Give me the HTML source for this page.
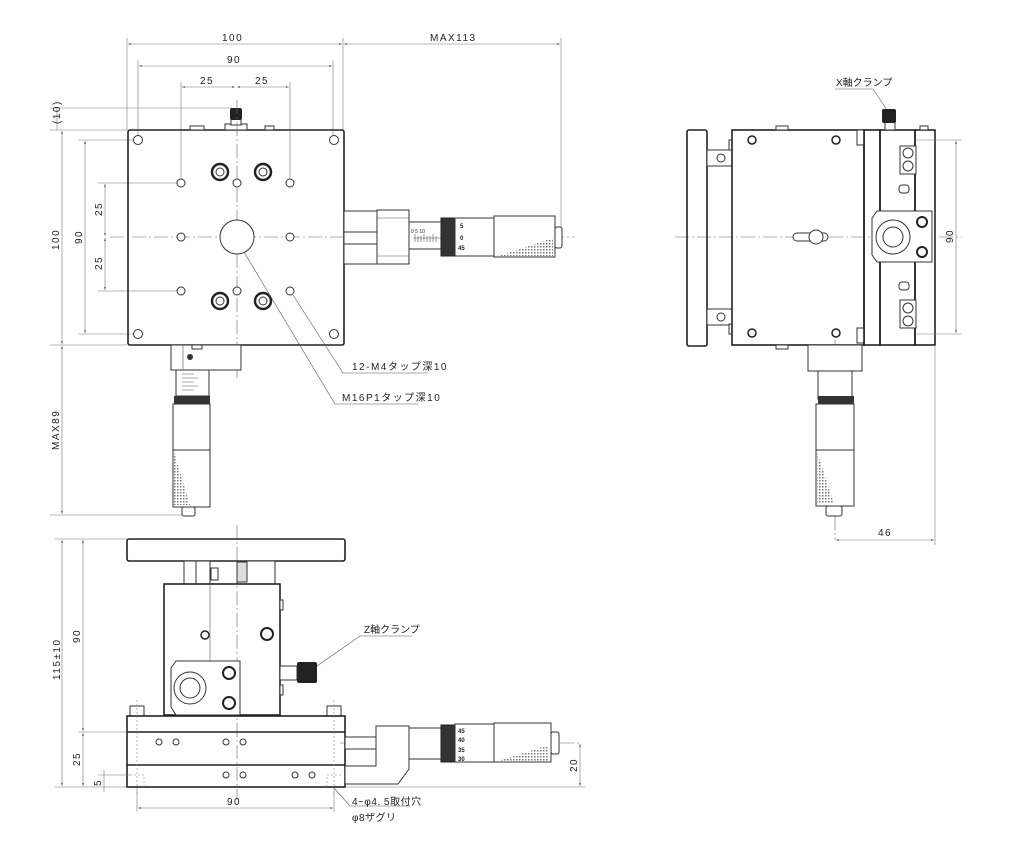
<!DOCTYPE html>
<html><head><meta charset="utf-8"><style>
html,body{margin:0;padding:0;background:#fff;width:1024px;height:854px;overflow:hidden}
svg{display:block}
text{font-family:"Liberation Sans","Noto Sans CJK JP",sans-serif;font-size:10px;fill:#222;letter-spacing:1.5px}
.o{fill:#fff;stroke:#333;stroke-width:1}
.ob{fill:none;stroke:#222;stroke-width:1.6}
.l{stroke:#555;stroke-width:.6;fill:none}
.d{stroke:#777;stroke-width:.6;fill:none}
.c{stroke:#666;stroke-width:.6;stroke-dasharray:14 3 2 3;fill:none}
.h{fill:#fff;stroke:#333;stroke-width:1}
.k{fill:#222}
.hat{fill:url(#hat)}
</style></head><body>
<svg width="1024" height="854" viewBox="0 0 1024 854" xmlns="http://www.w3.org/2000/svg">
<defs>
<pattern id="hat" width="3" height="3" patternUnits="userSpaceOnUse"><rect width="3" height="3" fill="#fff"/><rect width="1.5" height="1.5" fill="#777"/></pattern>
<marker id="a" markerWidth="6" markerHeight="6" refX="5" refY="3" orient="auto-start-reverse"><path d="M0,1.5 L5,3 L0,4.5" fill="#555"/></marker>
</defs>

<!-- ================= TOP VIEW ================= -->
<g class="d">
<line x1="127" y1="38" x2="127" y2="130"/><line x1="343" y1="38" x2="343" y2="130"/><line x1="561" y1="38" x2="561" y2="237"/>
<line x1="138" y1="60" x2="138" y2="135"/><line x1="333" y1="60" x2="333" y2="135"/>
<line x1="181" y1="82" x2="181" y2="183"/><line x1="290" y1="82" x2="290" y2="183"/>
<line x1="50" y1="108" x2="232" y2="108"/><line x1="50" y1="130" x2="127" y2="130"/>
<line x1="50" y1="345" x2="127" y2="345"/><line x1="78" y1="140" x2="138" y2="140"/><line x1="78" y1="334" x2="138" y2="334"/>
<line x1="98" y1="183" x2="181" y2="183"/><line x1="98" y1="291" x2="181" y2="291"/>
<line x1="50" y1="515" x2="188" y2="515"/>
</g>
<g class="d" marker-start="url(#a)" marker-end="url(#a)">
<line x1="128" y1="44" x2="342" y2="44"/><line x1="344" y1="44" x2="560" y2="44"/>
<line x1="139" y1="66" x2="332" y2="66"/>
<line x1="182" y1="87" x2="235" y2="87"/><line x1="237" y1="87" x2="289" y2="87"/>
<line x1="62" y1="131" x2="62" y2="344"/><line x1="62" y1="346" x2="62" y2="514"/>
<line x1="85" y1="141" x2="85" y2="333"/>
<line x1="105" y1="184" x2="105" y2="236"/><line x1="105" y1="238" x2="105" y2="290"/>
</g>
<line class="d" x1="57" y1="108" x2="57" y2="130"/>
<text x="222" y="41">100</text><text x="430" y="41">MAX113</text><text x="227" y="63">90</text>
<text x="200" y="84">25</text><text x="255" y="84">25</text>
<text transform="translate(60,124) rotate(-90)">(10)</text>
<text transform="translate(59,250) rotate(-90)">100</text>
<text transform="translate(82,244) rotate(-90)">90</text>
<text transform="translate(102,216) rotate(-90)">25</text>
<text transform="translate(102,270) rotate(-90)">25</text>
<text transform="translate(59,450) rotate(-90)">MAX89</text>

<rect x="128" y="130" width="216" height="215" rx="2" class="ob" fill="#fff"/>
<rect x="190" y="126" width="14" height="4" class="o"/><rect x="265" y="126" width="9" height="4" class="o"/>
<rect x="225" y="124" width="22" height="6" class="o"/>
<rect x="231" y="118" width="10" height="7" class="o"/>
<rect x="230" y="108" width="12" height="12" rx="2" class="k"/>
<line class="c" x1="237" y1="100" x2="237" y2="380"/><line class="c" x1="110" y1="237" x2="575" y2="237"/>
<g class="h">
<circle cx="138" cy="140" r="4.5"/><circle cx="334" cy="140" r="4.5"/><circle cx="138" cy="334" r="4.5"/><circle cx="334" cy="334" r="4.5"/>
<circle cx="181" cy="183" r="4"/><circle cx="237" cy="183" r="4"/><circle cx="290" cy="183" r="4"/>
<circle cx="181" cy="237" r="4"/><circle cx="290" cy="237" r="4"/>
<circle cx="181" cy="291" r="4"/><circle cx="237" cy="291" r="4"/><circle cx="290" cy="291" r="4"/>
<circle cx="237" cy="237" r="17"/>
</g>
<g>
<circle cx="220" cy="172" r="8" fill="#fff" stroke="#222" stroke-width="2.5"/><circle cx="220" cy="172" r="4" class="h"/>
<circle cx="263" cy="172" r="8" fill="#fff" stroke="#222" stroke-width="2.5"/><circle cx="263" cy="172" r="4" class="h"/>
<circle cx="220" cy="301" r="8" fill="#fff" stroke="#222" stroke-width="2.5"/><circle cx="220" cy="301" r="4" class="h"/>
<circle cx="263" cy="301" r="8" fill="#fff" stroke="#222" stroke-width="2.5"/><circle cx="263" cy="301" r="4" class="h"/>
</g>
<rect x="344" y="211" width="33" height="53" class="o"/>
<rect x="344" y="232" width="33" height="12" class="o"/>
<rect x="377" y="210" width="32" height="54" class="o"/>
<line class="l" x1="377" y1="218" x2="409" y2="218"/><line class="l" x1="377" y1="256" x2="409" y2="256"/>
<rect x="409" y="222" width="32" height="27" class="o"/>
<g class="l"><line x1="413" y1="238" x2="441" y2="238"/><path d="M415 234v8M418 236v6M421 236v6M424 234v8M427 236v6M430 236v6M433 234v8M436 236v6"/></g>
<text x="411" y="233" style="font-size:5px;letter-spacing:0">0 5 10</text>
<rect x="441" y="218" width="14" height="38" fill="#333" stroke="#222"/>
<rect x="455" y="218" width="39" height="38" class="o"/>
<text x="460" y="228" style="font-size:6px;font-weight:bold;letter-spacing:0">5</text>
<text x="460" y="240" style="font-size:6px;font-weight:bold;letter-spacing:0">0</text>
<text x="458" y="250" style="font-size:6px;font-weight:bold;letter-spacing:0">45</text>
<rect x="494" y="216" width="61" height="41" class="o"/>
<path d="M498 256 L553 238 L553 256Z" class="hat"/>
<rect x="555" y="227" width="7" height="21" rx="2" class="o"/>
<rect x="171" y="345" width="70" height="25" class="o"/>
<line class="l" x1="183" y1="345" x2="183" y2="370"/>
<rect x="192" y="345" width="10" height="4" class="o"/>
<circle cx="190" cy="357" r="3" fill="#333"/>
<rect x="176" y="370" width="33" height="26" class="o"/>
<g class="l"><path d="M182 374h12M182 378h16M182 382h12M182 386h16M182 390h12"/></g>
<rect x="174" y="396" width="36" height="8" fill="#333"/>
<rect x="173" y="404" width="37" height="46" class="o"/>
<rect x="173" y="450" width="37" height="57" class="o"/>
<path d="M174 452 L190 505 L174 505Z" class="hat"/>
<rect x="182" y="507" width="13" height="9" rx="2" class="o"/>
<polyline class="l" points="293,295 343,373 428,373"/>
<polyline class="l" points="244,252 335,404 418,404"/>
<text x="352" y="370">12-M4タップ深10</text>
<text x="342" y="401">M16P1タップ深10</text>

<!-- ================= RIGHT VIEW ================= -->
<line class="c" x1="675" y1="237" x2="962" y2="237"/>
<line class="c" x1="835" y1="340" x2="835" y2="540"/>
<rect x="687" y="130" width="20" height="216" rx="2" class="ob" fill="#fff"/>
<rect x="707" y="150" width="25" height="16" class="o"/><circle cx="721" cy="158" r="4" class="h"/>
<rect x="707" y="309" width="25" height="16" class="o"/><circle cx="721" cy="317" r="4" class="h"/>
<rect x="729" y="140" width="3" height="10" class="o"/><rect x="729" y="324" width="3" height="10" class="o"/>
<rect x="732" y="130" width="132" height="215" class="ob" fill="#fff"/>
<rect x="776" y="126" width="12" height="4" class="o"/><rect x="776" y="345" width="12" height="4" class="o"/>
<g fill="#fff" stroke="#222" stroke-width="1.5">
<circle cx="752" cy="140" r="4"/><circle cx="836" cy="140" r="4"/><circle cx="752" cy="333" r="4"/><circle cx="836" cy="333" r="4"/></g>
<rect x="793" y="233" width="35" height="8" rx="4" class="o"/>
<circle cx="816" cy="237" r="7" class="h"/>
<rect x="857" y="130" width="7" height="15" class="o"/><rect x="857" y="328" width="7" height="15" class="o"/>
<rect x="864" y="130" width="16" height="215" class="ob" fill="#fff"/>
<rect x="880" y="130" width="35" height="215" class="ob" fill="#fff"/>
<rect x="915" y="130" width="20" height="215" class="ob" fill="#fff"/>
<rect x="885" y="122" width="10" height="8" class="o"/>
<rect x="882" y="109" width="14" height="14" rx="2" class="k"/>
<rect x="920" y="126" width="8" height="4" class="o"/>
<g fill="#fff" stroke="#333">
<rect x="900" y="146" width="16" height="28"/><rect x="900" y="300" width="16" height="28"/>
<circle cx="908" cy="153" r="5"/><circle cx="908" cy="166" r="5"/><circle cx="908" cy="308" r="5"/><circle cx="908" cy="321" r="5"/>
<rect x="899" y="185" width="10" height="8" rx="3"/><rect x="899" y="282" width="10" height="8" rx="3"/>
</g>
<path d="M877 211 H932 V262 H877 L872 255 V218Z" class="o"/>
<circle cx="893" cy="237" r="17" class="h"/><circle cx="893" cy="237" r="10" class="h"/>
<circle cx="922" cy="222" r="5" fill="#fff" stroke="#222" stroke-width="2"/>
<circle cx="922" cy="252" r="5" fill="#fff" stroke="#222" stroke-width="2"/>
<rect x="808" y="345" width="54" height="26" class="o"/>
<rect x="818" y="371" width="34" height="28" class="o"/>
<rect x="818" y="396" width="36" height="8" fill="#333"/>
<rect x="816" y="404" width="38" height="46" class="o"/>
<rect x="816" y="450" width="38" height="56" class="o"/>
<path d="M817 452 L834 504 L817 504Z" class="hat"/>
<rect x="826" y="506" width="16" height="10" rx="2" class="o"/>
<g class="d"><line x1="915" y1="140" x2="962" y2="140"/><line x1="915" y1="334" x2="962" y2="334"/>
<line x1="935" y1="345" x2="935" y2="545"/></g>
<g class="d" marker-start="url(#a)" marker-end="url(#a)">
<line x1="956" y1="141" x2="956" y2="333"/><line x1="836" y1="540" x2="934" y2="540"/></g>
<text transform="translate(953,243) rotate(-90)">90</text>
<text x="878" y="536">46</text>
<polyline class="l" points="835,89 873,89 887,110"/>
<text x="836" y="86" style="letter-spacing:0">X軸クランプ</text>

<!-- ================= FRONT/SIDE VIEW ================= -->
<line class="c" x1="237" y1="525" x2="237" y2="800"/>
<line class="c" x1="340" y1="743" x2="580" y2="743"/>
<rect x="127" y="539" width="218" height="22" rx="2" class="ob" fill="#fff"/>
<rect x="184" y="561" width="26" height="23" class="o"/><rect x="196" y="561" width="14" height="23" class="o"/>
<rect x="211" y="568" width="7" height="12" class="o"/>
<rect x="237" y="561" width="38" height="23" class="o"/>
<rect x="237" y="562" width="10" height="20" fill="#ddd" stroke="#333"/>
<rect x="164" y="584" width="116" height="131" class="ob" fill="#fff"/>
<line class="l" x1="210" y1="584" x2="210" y2="715"/>
<rect x="280" y="600" width="3" height="10" class="o"/><rect x="280" y="685" width="3" height="10" class="o"/>
<circle cx="205" cy="635" r="4" fill="#fff" stroke="#222" stroke-width="1.5"/>
<circle cx="267" cy="634" r="6" fill="#fff" stroke="#222" stroke-width="2"/>
<path d="M176 661 H240 V715 H176 L171 707 V668Z" class="o"/>
<circle cx="190" cy="688" r="16" class="h"/><circle cx="190" cy="688" r="10" class="h"/>
<circle cx="229" cy="673" r="6" fill="#fff" stroke="#222" stroke-width="2"/>
<circle cx="229" cy="703" r="6" fill="#fff" stroke="#222" stroke-width="2"/>
<rect x="280" y="666" width="17" height="14" class="o"/>
<rect x="297" y="662" width="20" height="21" rx="2" class="k"/>
<polyline class="l" points="317,666 360,636 412,636"/>
<text x="364" y="633" style="letter-spacing:0">Z軸クランプ</text>
<rect x="130" y="706" width="14" height="10" class="o"/><rect x="327" y="706" width="14" height="10" class="o"/>
<rect x="127" y="716" width="218" height="71" class="ob" fill="#fff"/>
<line x1="127" y1="732" x2="345" y2="732" stroke="#222" stroke-width="1.5"/>
<line x1="127" y1="765" x2="345" y2="765" stroke="#222" stroke-width="1.5"/>
<g stroke="#888" stroke-width=".6" stroke-dasharray="2 2" fill="none"><path d="M130 775h14v12M327 787v-12h14M137 700v95M334 700v95"/></g>
<g class="h">
<circle cx="159" cy="742" r="3"/><circle cx="176" cy="742" r="3"/><circle cx="226" cy="742" r="3"/><circle cx="243" cy="742" r="3"/>
<circle cx="226" cy="775" r="3"/><circle cx="243" cy="775" r="3"/><circle cx="295" cy="775" r="3"/><circle cx="312" cy="775" r="3"/>
</g>
<rect x="345" y="737" width="31" height="12" class="o"/>
<path d="M376 726 H409 V769 L398 784 H345 V766 H376Z" class="o"/>
<rect x="409" y="728" width="32" height="31" class="o"/>
<rect x="441" y="725" width="14" height="37" fill="#333" stroke="#222"/>
<rect x="455" y="724" width="39" height="38" class="o"/>
<text x="458" y="733" style="font-size:6px;font-weight:bold;letter-spacing:0">45</text>
<text x="458" y="742" style="font-size:6px;font-weight:bold;letter-spacing:0">40</text>
<text x="458" y="752" style="font-size:6px;font-weight:bold;letter-spacing:0">35</text>
<text x="458" y="761" style="font-size:6px;font-weight:bold;letter-spacing:0">30</text>
<rect x="494" y="723" width="57" height="39" class="o"/>
<path d="M498 761 L549 745 L549 761Z" class="hat"/>
<rect x="551" y="732" width="8" height="22" rx="2" class="o"/>
<g class="d"><line x1="55" y1="539" x2="127" y2="539"/><line x1="55" y1="787" x2="127" y2="787"/><line x1="78" y1="732" x2="127" y2="732"/>
<line x1="98" y1="775" x2="130" y2="775"/><line x1="137" y1="790" x2="137" y2="812"/><line x1="334" y1="790" x2="334" y2="812"/>
<line x1="345" y1="787" x2="585" y2="787"/></g>
<g class="d" marker-start="url(#a)" marker-end="url(#a)">
<line x1="62" y1="540" x2="62" y2="786"/><line x1="83" y1="540" x2="83" y2="731"/><line x1="83" y1="733" x2="83" y2="786"/>
<line x1="138" y1="808" x2="333" y2="808"/><line x1="580" y1="744" x2="580" y2="786"/></g>
<line class="d" x1="104" y1="770" x2="104" y2="792"/>
<text transform="translate(60,680) rotate(-90)">115±10</text>
<text transform="translate(80,643) rotate(-90)">90</text>
<text transform="translate(80,766) rotate(-90)">25</text>
<text transform="translate(101,786) rotate(-90)">5</text>
<text transform="translate(577,772) rotate(-90)">20</text>
<text x="227" y="805">90</text>
<polyline class="l" points="334,788 350,806 410,806"/>
<text x="352" y="805" style="letter-spacing:.5px">4−φ4. 5取付穴</text>
<text x="352" y="821" style="letter-spacing:.5px">φ8ザグリ</text>
</svg>
</body></html>
